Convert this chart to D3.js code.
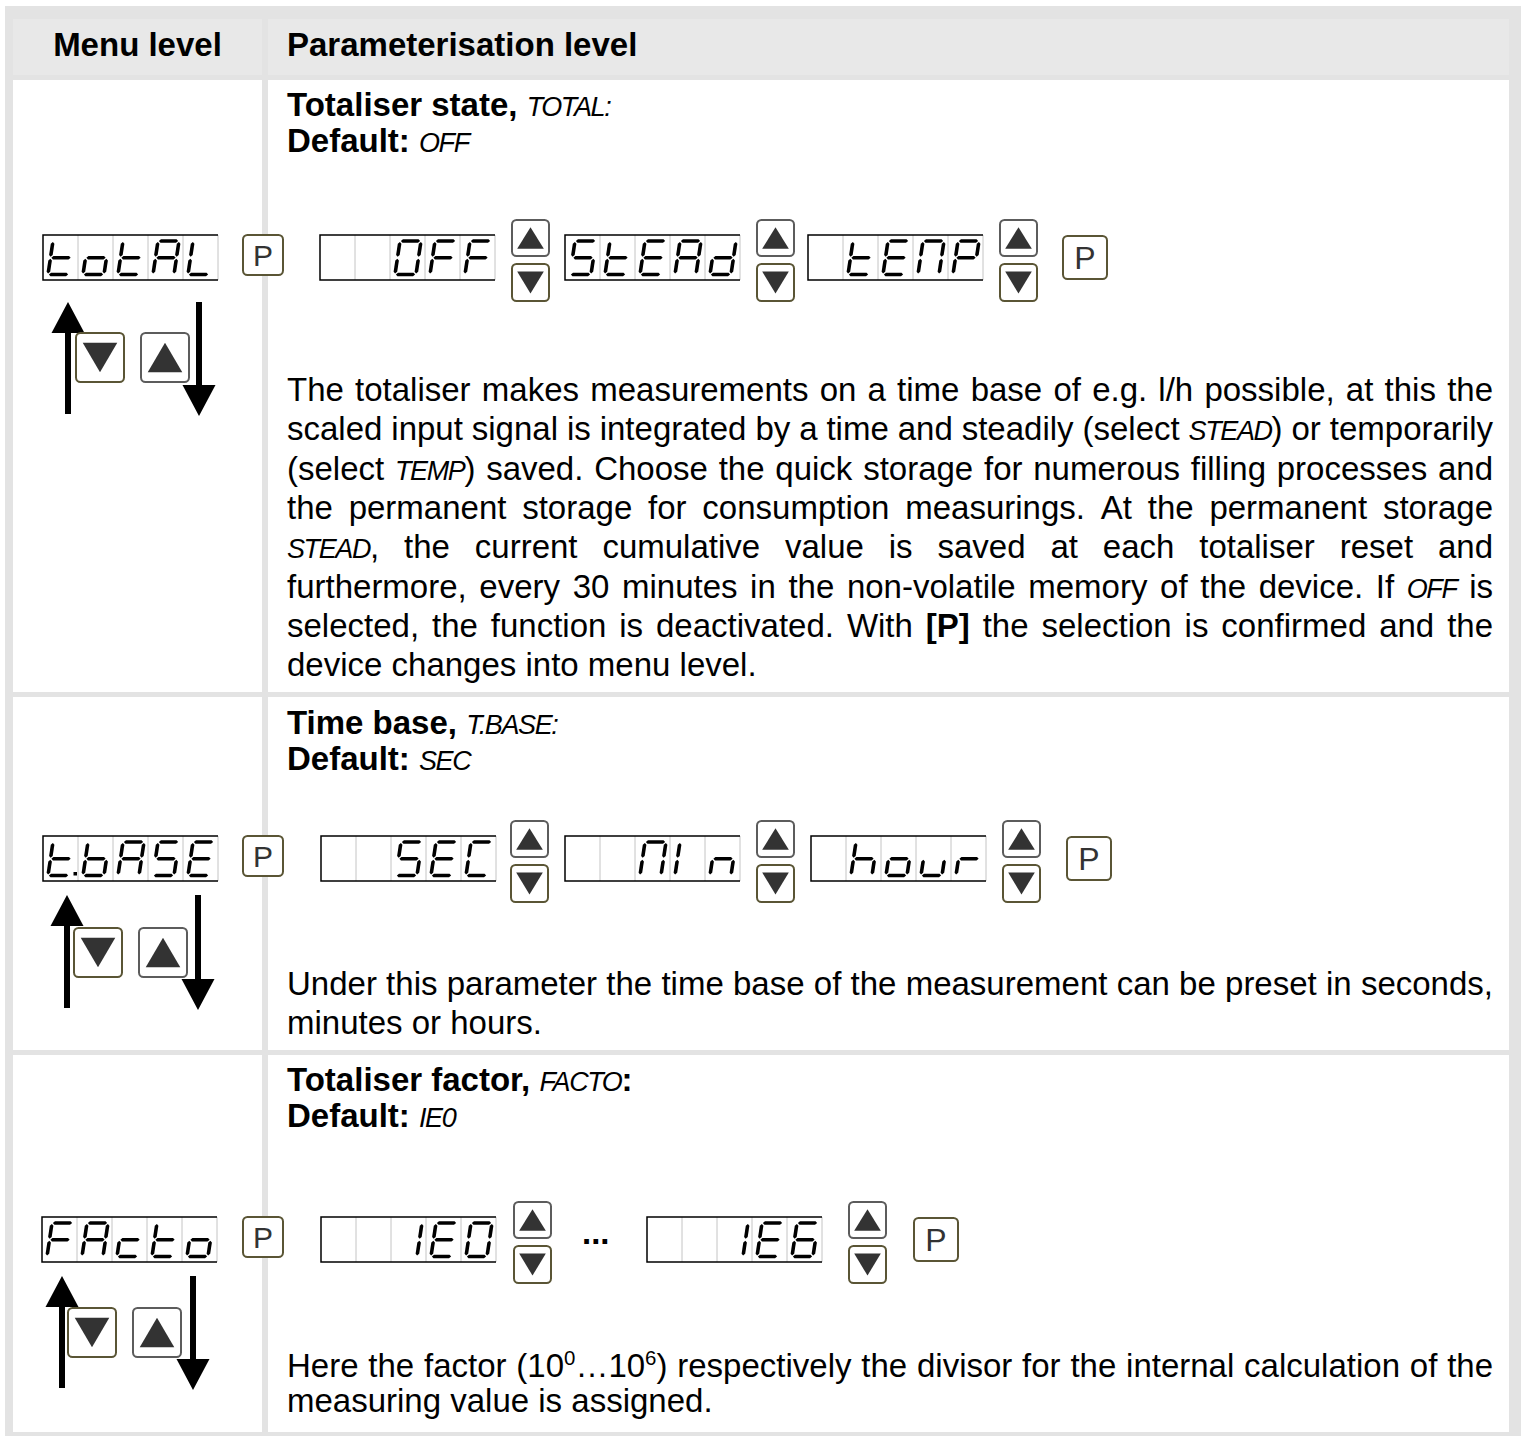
<!DOCTYPE html>
<html><head><meta charset="utf-8">
<script src="https://cdn.jsdelivr.net/npm/d3@7"></script>
<style>body{margin:0;background:#fff}svg{display:block}</style>
</head><body>
<svg id="c" width="1521" height="1436"></svg>
<script>
// ---------------- data ----------------
const headers = ["Menu level", "Parameterisation level"];
const menuCodes = ["totAL", "t.bASE", "FActo"];
const optionsTotal = ["  OFF", "StEAd", " tEMP"];
const optionsBase = ["  SEC", "  MIn", " hour"];
const optionsFactor = ["  1E0", "  1E6"];
const titleTotal = ["*Totaliser state,* {TOTAL:}", "*Default:* {OFF}"];
const titleBase = ["*Time base,* {T.BASE:}", "*Default:* {SEC}"];
const titleFactor = ["*Totaliser factor,* {FACTO}*:*", "*Default:* {IE0}"];
const textTotal = [
  "The totaliser makes measurements on a time base of e.g. l/h possible, at this the",
  "scaled input signal is integrated by a time and steadily (select {STEAD}) or temporarily",
  "(select {TEMP}) saved. Choose the quick storage for numerous filling processes and",
  "the permanent storage for consumption measurings. At the permanent storage",
  "{STEAD}, the current cumulative value is saved at each totaliser reset and",
  "furthermore, every 30 minutes in the non-volatile memory of the device. If {OFF} is",
  "selected, the function is deactivated. With *[P]* the selection is confirmed and the",
  "device changes into menu level."
];
const textBase = [
  "Under this parameter the time base of the measurement can be preset in seconds,",
  "minutes or hours."
];
const textFactor = [
  "Here the factor (10^0^…10^6^) respectively the divisor for the internal calculation of the",
  "measuring value is assigned."
];
const keyLabel = "P";
const ellipsis = "...";

// seven-segment map
const SEGMAP = {' ':'', '0':'abcdef', 'O':'abcdef', '1':'bc', '6':'acdefg', 'A':'abcefg', 'b':'cdefg', 'c':'deg',
  'C':'adef', 'd':'bcdeg', 'E':'adefg', 'F':'aefg', 'h':'cefg', 'I':'ef', 'L':'def', 'M':'abcef',
  'n':'ceg', 'o':'cdeg', 'P':'abefg', 'r':'eg', 'S':'acdfg', 't':'defg', 'u':'cde'};

// ---------------- layout ----------------
const W = 1521, H = 1436;
const FRAME = "#e3e3e3", HEAD = "#e8e8e8";
const FONT = "'Liberation Sans', Arial, Helvetica, sans-serif";
const FS = 33, LCD_FS = 27, LCD_LS = -1.4;
const OLIVE = "#5a5535", GREYB = "#5c5c5c", TRI = "#333";
const TX = 287, TW = 1206;

const svg = d3.select("#c");
svg.append("rect").attr("x", 5).attr("y", 6).attr("width", W - 5).attr("height", H - 6).attr("fill", FRAME);

const colL = [13, 262], colR = [268, 1509];
const rows = [
  {top:80, bottom:692, disp:235, menu:menuCodes[0], menuX:43, opts:optionsTotal, optX:[320,565,808], btnX:[512,757,1000], finalP:1063,
   upX:68, downX:199, aTop:302, aBot:414, bDown:76, bUp:141, bY:333, titles:titleTotal, tY:[116,152], text:textTotal, txY:401, lh:39.3},
  {top:697, bottom:1050, disp:836, menu:menuCodes[1], menuX:43, opts:optionsBase, optX:[321,565,811], btnX:[511,757,1003], finalP:1067,
   upX:67, downX:198, aTop:895, aBot:1008, bDown:74, bUp:139, bY:928, titles:titleBase, tY:[734,770], text:textBase, txY:995, lh:39},
  {top:1055, bottom:1432, disp:1217, menu:menuCodes[2], menuX:42, opts:optionsFactor, optX:[321,647], btnX:[514,849], finalP:914,
   upX:62, downX:193, aTop:1276, aBot:1388, bDown:68, bUp:133, bY:1308, titles:titleFactor, tY:[1091,1127], text:textFactor, txY:1377, lh:35, ellX:582}
];

// header cells
svg.append("rect").attr("x", colL[0]).attr("y", 19).attr("width", colL[1]-colL[0]).attr("height", 56).attr("fill", HEAD);
svg.append("rect").attr("x", colR[0]).attr("y", 19).attr("width", colR[1]-colR[0]).attr("height", 56).attr("fill", HEAD);
rows.forEach(r => {
  svg.append("rect").attr("x", colL[0]).attr("y", r.top).attr("width", colL[1]-colL[0]).attr("height", r.bottom-r.top).attr("fill", "#fff");
  svg.append("rect").attr("x", colR[0]).attr("y", r.top).attr("width", colR[1]-colR[0]).attr("height", r.bottom-r.top).attr("fill", "#fff");
});

// ---------------- text engine ----------------
const meas = svg.append("g").attr("opacity", 0);
function styleRun(t, kind) {
  if (kind === 'b') t.attr("font-weight", "bold").attr("font-size", FS);
  else if (kind === 'l') t.attr("font-style", "italic").attr("font-size", LCD_FS).attr("letter-spacing", LCD_LS);
  else if (kind === 's') t.attr("font-size", FS * 0.62);
  else t.attr("font-size", FS);
  return t;
}
function textWidth(s, kind) {
  const t = meas.append("text").attr("font-family", FONT).attr("xml:space", "preserve");
  styleRun(t.append("tspan").text(s), kind);
  const w = t.node().getComputedTextLength();
  t.remove();
  return w;
}
const SPACE = textWidth("n n", 'n') - textWidth("nn", 'n');
function parse(line) {
  const runs = []; let kind = 'n', buf = '';
  const push = () => { if (buf) runs.push({text: buf, kind}); buf = ''; };
  for (const ch of line) {
    if (ch === '*') { push(); kind = kind === 'b' ? 'n' : 'b'; }
    else if (ch === '{') { push(); kind = 'l'; }
    else if (ch === '}') { push(); kind = 'n'; }
    else if (ch === '^') { push(); kind = kind === 's' ? 'n' : 's'; }
    else buf += ch;
  }
  push();
  return runs;
}
function toWords(runs) {
  const words = [[]];
  runs.forEach(r => {
    r.text.split(' ').forEach((p, i) => {
      if (i > 0) words.push([]);
      if (p) words[words.length - 1].push({text: p, kind: r.kind});
    });
  });
  return words.filter(w => w.length);
}
function drawLine(g, line, x, y, justifyW) {
  const words = toWords(parse(line));
  words.forEach(w => { w.forEach(p => p.w = textWidth(p.text, p.kind)); w.w = d3.sum(w, p => p.w); });
  const total = d3.sum(words, w => w.w);
  const gap = justifyW ? (justifyW - total) / (words.length - 1) : SPACE;
  const t = g.append("text").attr("font-family", FONT).attr("fill", "#000").attr("y", y);
  let cx = x, raised = false;
  words.forEach(w => {
    w.forEach((p, j) => {
      const ts = styleRun(t.append("tspan").text(p.text), p.kind);
      if (j === 0) ts.attr("x", cx);
      if (p.kind === 's' && !raised) { ts.attr("dy", -FS * 0.36); raised = true; }
      else if (p.kind !== 's' && raised) { ts.attr("dy", FS * 0.36); raised = false; }
      cx += p.w;
    });
    cx += gap;
  });
}

// headers
svg.append("text").attr("x", (colL[0]+colL[1])/2).attr("y", 56).attr("text-anchor", "middle")
  .attr("font-family", FONT).attr("font-weight", "bold").attr("font-size", FS).text(headers[0]);
svg.append("text").attr("x", TX).attr("y", 56)
  .attr("font-family", FONT).attr("font-weight", "bold").attr("font-size", FS).text(headers[1]);

// ---------------- display & widgets ----------------
const CW = 35, CH = 45;
function glyph(g, segs, x0, top, bottom) {
  const w = 21, h = bottom - top, sl = 5, t = 3.6, gap = 0.9;
  const P = (u, v) => [x0 + u + sl * v / h, bottom - v];
  const def = {a:[[0,h],[w,h]], b:[[w,h],[w,h/2]], c:[[w,h/2],[w,0]], d:[[0,0],[w,0]],
               e:[[0,0],[0,h/2]], f:[[0,h/2],[0,h]], g:[[0,h/2],[w,h/2]]};
  for (const s of segs) {
    const [[u1,v1],[u2,v2]] = def[s];
    let pts;
    if (v1 === v2) {
      const ua = Math.min(u1,u2) + gap, ub = Math.max(u1,u2) - gap, v = v1;
      pts = [[ua,v],[ua+t/2,v+t/2],[ub-t/2,v+t/2],[ub,v],[ub-t/2,v-t/2],[ua+t/2,v-t/2]];
    } else {
      const va = Math.min(v1,v2) + gap, vb = Math.max(v1,v2) - gap, u = u1;
      pts = [[u,va],[u+t/2,va+t/2],[u+t/2,vb-t/2],[u,vb],[u-t/2,vb-t/2],[u-t/2,va+t/2]];
    }
    g.append("polygon").attr("points", pts.map(q => P(q[0], q[1]).join(",")).join(" ")).attr("fill", "#000");
  }
}
function display(g, str, x, y) {
  const cells = [];
  for (const c of str) { if (c === '.' && cells.length) cells[cells.length-1].dp = true; else cells.push({c}); }
  const n = cells.length;
  g.append("rect").attr("x", x).attr("y", y).attr("width", n*CW).attr("height", CH).attr("fill", "#fff");
  for (let i = 1; i <= n; i++)
    g.append("line").attr("x1", x+i*CW).attr("x2", x+i*CW).attr("y1", y).attr("y2", y+CH).attr("stroke", "#c4c4c4").attr("stroke-width", 1);
  g.append("path").attr("d", `M${x+n*CW},${y}H${x}V${y+CH}H${x+n*CW}`).attr("fill", "none").attr("stroke", "#000").attr("stroke-width", 1.5);
  cells.forEach((cell, i) => {
    const cx = x + i*CW;
    glyph(g, SEGMAP[cell.c] || '', cx + 5, y + 6, y + CH - 5.5);
    if (cell.dp) g.append("rect").attr("x", cx + CW - 4.5).attr("y", y + CH - 9).attr("width", 3.5).attr("height", 3.5).attr("fill", "#000");
  });
}
function key(g, x, y, w, h, stroke, type, fs) {
  g.append("rect").attr("x", x).attr("y", y).attr("width", w).attr("height", h).attr("rx", 4.5)
    .attr("fill", "#fff").attr("stroke", stroke).attr("stroke-width", 2);
  const cx = x + w/2, cy = y + h/2, tw = w*0.72, th = h*0.6;
  if (type === 'up')
    g.append("path").attr("d", `M${cx},${cy-th/2}L${cx+tw/2},${cy+th/2}L${cx-tw/2},${cy+th/2}Z`).attr("fill", TRI);
  else if (type === 'down')
    g.append("path").attr("d", `M${cx},${cy+th/2}L${cx+tw/2},${cy-th/2}L${cx-tw/2},${cy-th/2}Z`).attr("fill", TRI);
  else
    g.append("text").attr("x", cx).attr("y", cy + fs*0.36).attr("text-anchor", "middle").attr("font-family", FONT)
      .attr("font-size", fs).attr("fill", "#333").text(keyLabel);
}
function arrow(g, x, top, bot, dir) {
  const hw = 16.5, hh = 31;
  if (dir === 'up') {
    g.append("line").attr("x1", x).attr("x2", x).attr("y1", top + hh - 2).attr("y2", bot).attr("stroke", "#000").attr("stroke-width", 6);
    g.append("path").attr("d", `M${x},${top}L${x+hw},${top+hh}L${x-hw},${top+hh}Z`).attr("fill", "#000");
  } else {
    g.append("line").attr("x1", x).attr("x2", x).attr("y1", top).attr("y2", bot - hh + 2).attr("stroke", "#000").attr("stroke-width", 6);
    g.append("path").attr("d", `M${x},${bot}L${x+hw},${bot-hh}L${x-hw},${bot-hh}Z`).attr("fill", "#000");
  }
}

// ---------------- rows ----------------
rows.forEach(r => {
  const g = svg.append("g");
  r.titles.forEach((t, i) => drawLine(g, t, TX, r.tY[i], null));
  display(g, r.menu, r.menuX, r.disp);
  key(g, 243, r.disp, 40, 40, OLIVE, 'P', 30);
  r.opts.forEach((o, i) => {
    display(g, o, r.optX[i], r.disp);
    key(g, r.btnX[i], r.disp - 15, 37, 36, GREYB, 'up');
    key(g, r.btnX[i], r.disp + 29, 37, 37, OLIVE, 'down');
  });
  if (r.ellX) g.append("text").attr("x", r.ellX).attr("y", r.disp + 27).attr("font-family", FONT)
    .attr("font-weight", "bold").attr("font-size", FS).text(ellipsis);
  key(g, r.finalP, r.disp + 1, 44, 43, OLIVE, 'P', 32);
  arrow(g, r.upX, r.aTop, r.aBot, 'up');
  arrow(g, r.downX, r.aTop, r.aBot + 2, 'down');
  key(g, r.bDown, r.bY, 48, 49, OLIVE, 'down');
  key(g, r.bUp, r.bY, 48, 49, GREYB, 'up');
  r.text.forEach((t, i) => drawLine(g, t, TX, r.txY + i * r.lh, i < r.text.length - 1 ? TW : null));
});
</script>
</body></html>
